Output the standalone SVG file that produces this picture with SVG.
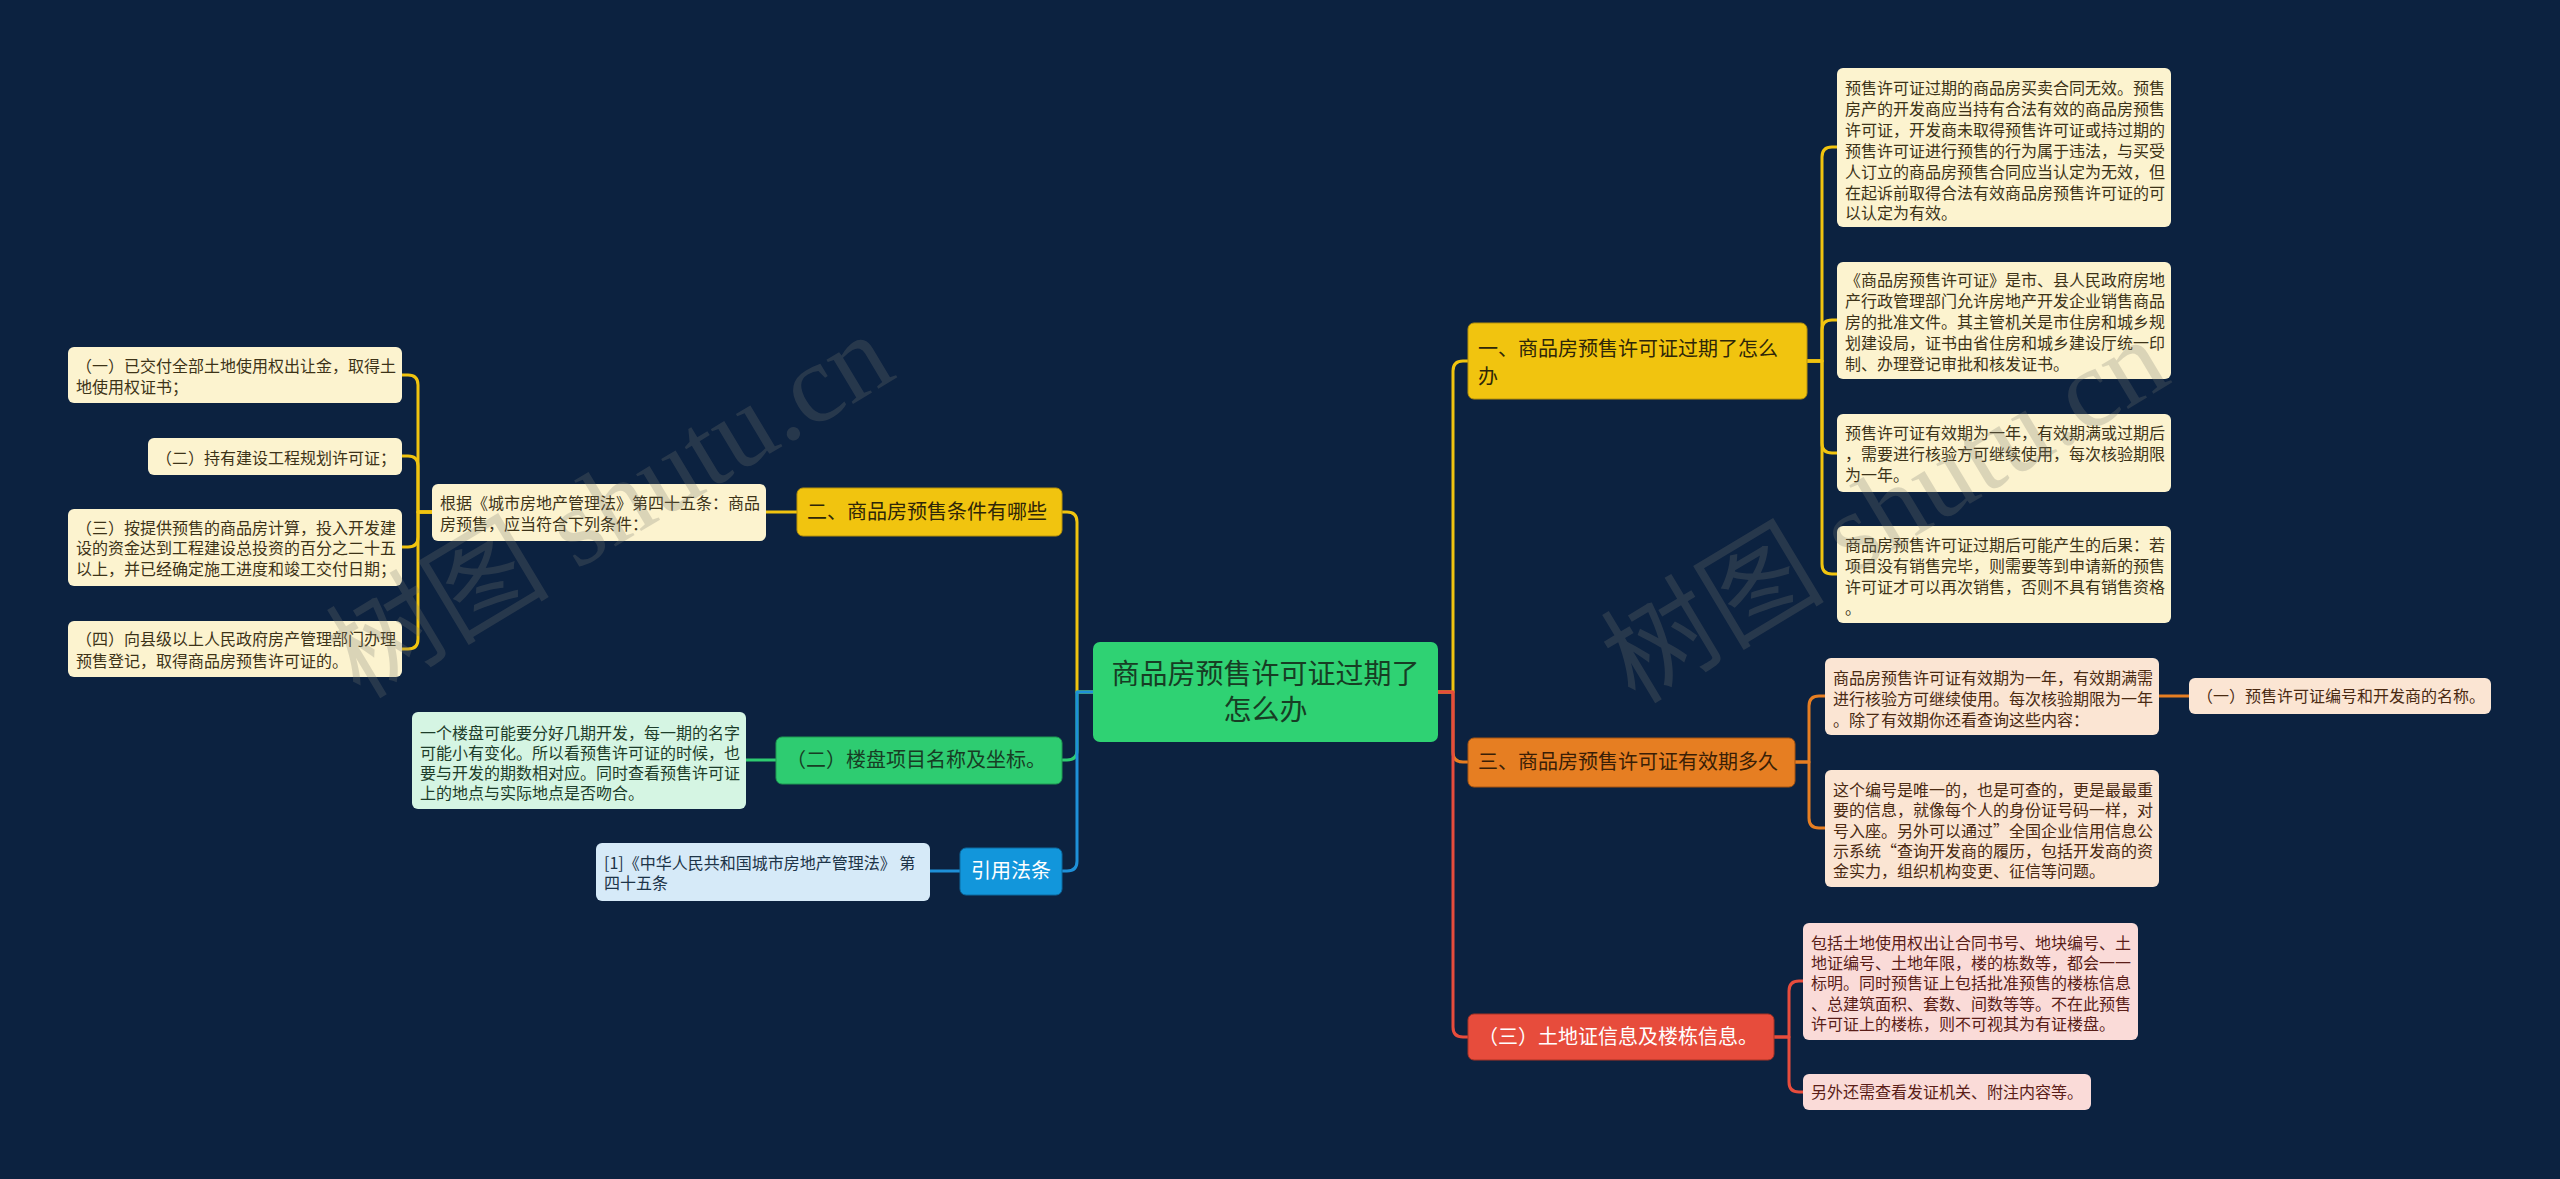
<svg xmlns="http://www.w3.org/2000/svg" width="2560" height="1179" viewBox="0 0 2560 1179">
<style>
text{font-family:"Noto Sans CJK SC","Noto Sans",sans-serif;}
.t16{font-size:16px;}
.t20{font-size:20px;}
.t28{font-size:28px;}
.c{fill:none;stroke-width:3;stroke-linejoin:round;}
.cy{stroke:#f1c40f;}
.co{stroke:#e67e22;}
.cr{stroke:#e74c3c;}
.cg{stroke:#2ecc71;}
.cb{stroke:#1e90d8;}
.nroot{fill:#2fd273;}
.ny{fill:#f1c40f;stroke:#b8920a;stroke-width:1;}
.no{fill:#e67e22;stroke:#a85510;stroke-width:1;}
.nr{fill:#e74c3c;stroke:#a83325;stroke-width:1;}
.ng{fill:#2ecc71;stroke:#1e9a52;stroke-width:1;}
.nb{fill:#1296db;stroke:#0c6aa0;stroke-width:1;}
.ly{fill:#fcf3cf;}
.lo{fill:#fbe5d3;}
.lr{fill:#fadbd8;}
.lg{fill:#d5f5e3;}
.lb{fill:#d6eaf8;}
.ty{fill:#3d3318;}
.to{fill:#4a2a12;}
.tr{fill:#5a1e18;}
.tg{fill:#1d3d2a;}
.tb{fill:#1d3448;}
.tdark{fill:#2e2608;}
.twhite{fill:#ffffff;}
.wm{font-family:"Liberation Serif","Noto Sans CJK SC",serif;font-size:112px;fill:#7a7a72;opacity:0.25;}
</style>
<rect x="0" y="0" width="2560" height="1179" fill="#0c2240"/>

<g id="connectors">
  <path class="c cy" d="M1093 692 H1077 V522 Q1077 512 1067 512 H1062"/>
  <path class="c cg" d="M1093 692 H1077 V750 Q1077 760 1067 760 H1062"/>
  <path class="c cb" d="M1093 692 H1077 V861 Q1077 871 1067 871 H1062"/>
  <path class="c cy" d="M1438 692 H1453 V371 Q1453 361 1463 361 H1468"/>
  <path class="c co" d="M1438 692 H1453 V752 Q1453 762 1463 762 H1468"/>
  <path class="c cr" d="M1438 692 H1453 V1027 Q1453 1037 1463 1037 H1468"/>
  <path class="c cy" d="M797 512 H766"/>
  <path class="c cy" d="M432 512 H418 V385 Q418 375 408 375 H402"/>
  <path class="c cy" d="M432 512 H418 V466 Q418 456 408 456 H402"/>
  <path class="c cy" d="M432 512 H418 V537 Q418 547 408 547 H402"/>
  <path class="c cy" d="M432 512 H418 V639 Q418 649 408 649 H402"/>
  <path class="c cg" d="M776 760 H746"/>
  <path class="c cb" d="M960 871 H930"/>
  <path class="c cy" d="M1807 361 H1822 V157 Q1822 147 1832 147 H1837"/>
  <path class="c cy" d="M1807 361 H1822 V330 Q1822 320 1832 320 H1837"/>
  <path class="c cy" d="M1807 361 H1822 V443 Q1822 453 1832 453 H1837"/>
  <path class="c cy" d="M1807 361 H1822 V564 Q1822 574 1832 574 H1837"/>
  <path class="c co" d="M1795 762 H1809 V706 Q1809 696 1819 696 H1825"/>
  <path class="c co" d="M1795 762 H1809 V818 Q1809 828 1819 828 H1825"/>
  <path class="c co" d="M2159 696 H2189"/>
  <path class="c cr" d="M1774 1037 H1789 V991 Q1789 981 1799 981 H1803"/>
  <path class="c cr" d="M1774 1037 H1789 V1082 Q1789 1092 1799 1092 H1803"/>
</g>

<g id="root">
  <rect class="nroot" x="1093" y="642" width="345" height="100" rx="7"/>
  <text class="t28" fill="#173d24" x="1265.5" y="684" text-anchor="middle">商品房预售许可证过期了</text>
  <text class="t28" fill="#173d24" x="1265.5" y="720" text-anchor="middle">怎么办</text>
</g>

<g id="n-two">
  <rect class="ny" x="797" y="488" width="265" height="48" rx="6"/>
  <text class="t20 tdark" x="807" y="519">二、商品房预售条件有哪些</text>
</g>
<g id="n-loupan">
  <rect class="ng" x="776" y="737" width="286" height="47" rx="6"/>
  <text class="t20" fill="#173d24" x="786" y="767">（二）楼盘项目名称及坐标。</text>
</g>
<g id="n-law">
  <rect class="nb" x="960" y="848" width="102" height="47" rx="6"/>
  <text class="t20 twhite" x="971" y="878">引用法条</text>
</g>

<g id="n-genju">
  <rect class="ly" x="432" y="484" width="334" height="57" rx="6"/>
  <text class="t16 ty" x="440" y="509">根据《城市房地产管理法》第四十五条：商品</text>
  <text class="t16 ty" x="440" y="530">房预售，应当符合下列条件：</text>
</g>
<g id="n-l1">
  <rect class="ly" x="68" y="347" width="334" height="56" rx="6"/>
  <text class="t16 ty" x="76" y="372">（一）已交付全部土地使用权出让金，取得土</text>
  <text class="t16 ty" x="76" y="393">地使用权证书；</text>
</g>
<g id="n-l2">
  <rect class="ly" x="148" y="438" width="254" height="37" rx="6"/>
  <text class="t16 ty" x="156" y="464">（二）持有建设工程规划许可证；</text>
</g>
<g id="n-l3">
  <rect class="ly" x="68" y="509" width="334" height="77" rx="6"/>
  <text class="t16 ty" x="76" y="534">（三）按提供预售的商品房计算，投入开发建</text>
  <text class="t16 ty" x="76" y="554">设的资金达到工程建设总投资的百分之二十五</text>
  <text class="t16 ty" x="76" y="575">以上，并已经确定施工进度和竣工交付日期；</text>
</g>
<g id="n-l4">
  <rect class="ly" x="68" y="621" width="334" height="56" rx="6"/>
  <text class="t16 ty" x="76" y="645">（四）向县级以上人民政府房产管理部门办理</text>
  <text class="t16 ty" x="76" y="667">预售登记，取得商品房预售许可证的。</text>
</g>
<g id="n-loupan-detail">
  <rect class="lg" x="412" y="712" width="334" height="97" rx="6"/>
  <text class="t16 tg" x="420" y="739">一个楼盘可能要分好几期开发，每一期的名字</text>
  <text class="t16 tg" x="420" y="759">可能小有变化。所以看预售许可证的时候，也</text>
  <text class="t16 tg" x="420" y="779">要与开发的期数相对应。同时查看预售许可证</text>
  <text class="t16 tg" x="420" y="799">上的地点与实际地点是否吻合。</text>
</g>
<g id="n-law-detail">
  <rect class="lb" x="596" y="843" width="334" height="58" rx="6"/>
  <text class="t16 tb" x="604" y="869">[1]《中华人民共和国城市房地产管理法》 第</text>
  <text class="t16 tb" x="604" y="889">四十五条</text>
</g>

<g id="n-one">
  <rect class="ny" x="1468" y="323" width="339" height="76" rx="6"/>
  <text class="t20 tdark" x="1478" y="356">一、商品房预售许可证过期了怎么</text>
  <text class="t20 tdark" x="1478" y="384">办</text>
</g>
<g id="n-three">
  <rect class="no" x="1468" y="738" width="327" height="49" rx="6"/>
  <text class="t20" fill="#3a1e06" x="1478" y="769">三、商品房预售许可证有效期多久</text>
</g>
<g id="n-land">
  <rect class="nr" x="1468" y="1014" width="306" height="46" rx="6"/>
  <text class="t20 twhite" x="1478" y="1044">（三）土地证信息及楼栋信息。</text>
</g>

<g id="n-r1">
  <rect class="ly" x="1837" y="68" width="334" height="159" rx="6"/>
  <text class="t16 ty" x="1845" y="94">预售许可证过期的商品房买卖合同无效。预售</text>
  <text class="t16 ty" x="1845" y="115">房产的开发商应当持有合法有效的商品房预售</text>
  <text class="t16 ty" x="1845" y="136">许可证，开发商未取得预售许可证或持过期的</text>
  <text class="t16 ty" x="1845" y="157">预售许可证进行预售的行为属于违法，与买受</text>
  <text class="t16 ty" x="1845" y="178">人订立的商品房预售合同应当认定为无效，但</text>
  <text class="t16 ty" x="1845" y="199">在起诉前取得合法有效商品房预售许可证的可</text>
  <text class="t16 ty" x="1845" y="219">以认定为有效。</text>
</g>
<g id="n-r2">
  <rect class="ly" x="1837" y="262" width="334" height="117" rx="6"/>
  <text class="t16 ty" x="1845" y="286">《商品房预售许可证》是市、县人民政府房地</text>
  <text class="t16 ty" x="1845" y="307">产行政管理部门允许房地产开发企业销售商品</text>
  <text class="t16 ty" x="1845" y="328">房的批准文件。其主管机关是市住房和城乡规</text>
  <text class="t16 ty" x="1845" y="349">划建设局，证书由省住房和城乡建设厅统一印</text>
  <text class="t16 ty" x="1845" y="370">制、办理登记审批和核发证书。</text>
</g>
<g id="n-r3">
  <rect class="ly" x="1837" y="414" width="334" height="78" rx="6"/>
  <text class="t16 ty" x="1845" y="439">预售许可证有效期为一年，有效期满或过期后</text>
  <text class="t16 ty" x="1845" y="460">，需要进行核验方可继续使用，每次核验期限</text>
  <text class="t16 ty" x="1845" y="481">为一年。</text>
</g>
<g id="n-r4">
  <rect class="ly" x="1837" y="526" width="334" height="97" rx="6"/>
  <text class="t16 ty" x="1845" y="551">商品房预售许可证过期后可能产生的后果：若</text>
  <text class="t16 ty" x="1845" y="572">项目没有销售完毕，则需要等到申请新的预售</text>
  <text class="t16 ty" x="1845" y="593">许可证才可以再次销售，否则不具有销售资格</text>
  <text class="t16 ty" x="1845" y="614">。</text>
</g>
<g id="n-a">
  <rect class="lo" x="1825" y="658" width="334" height="77" rx="6"/>
  <text class="t16 to" x="1833" y="684">商品房预售许可证有效期为一年，有效期满需</text>
  <text class="t16 to" x="1833" y="705">进行核验方可继续使用。每次核验期限为一年</text>
  <text class="t16 to" x="1833" y="726">。除了有效期你还看查询这些内容：</text>
</g>
<g id="n-number">
  <rect class="lo" x="2189" y="678" width="302" height="36" rx="6"/>
  <text class="t16 to" x="2197" y="702">（一）预售许可证编号和开发商的名称。</text>
</g>
<g id="n-b">
  <rect class="lo" x="1825" y="770" width="334" height="117" rx="6"/>
  <text class="t16 to" x="1833" y="796">这个编号是唯一的，也是可查的，更是最最重</text>
  <text class="t16 to" x="1833" y="816">要的信息，就像每个人的身份证号码一样，对</text>
  <text class="t16 to" x="1833" y="837">号入座。另外可以通过”全国企业信用信息公</text>
  <text class="t16 to" x="1833" y="857">示系统“查询开发商的履历，包括开发商的资</text>
  <text class="t16 to" x="1833" y="877">金实力，组织机构变更、征信等问题。</text>
</g>
<g id="n-p1">
  <rect class="lr" x="1803" y="923" width="335" height="117" rx="6"/>
  <text class="t16 tr" x="1811" y="949">包括土地使用权出让合同书号、地块编号、土</text>
  <text class="t16 tr" x="1811" y="969">地证编号、土地年限，楼的栋数等，都会一一</text>
  <text class="t16 tr" x="1811" y="989">标明。同时预售证上包括批准预售的楼栋信息</text>
  <text class="t16 tr" x="1811" y="1010">、总建筑面积、套数、间数等等。不在此预售</text>
  <text class="t16 tr" x="1811" y="1030">许可证上的楼栋，则不可视其为有证楼盘。</text>
</g>
<g id="n-p2">
  <rect class="lr" x="1803" y="1074" width="288" height="36" rx="6"/>
  <text class="t16 tr" x="1811" y="1098">另外还需查看发证机关、附注内容等。</text>
</g>

<g id="watermark">
  <text class="wm" x="360" y="700" transform="rotate(-31 360 700)">树图 shutu.cn</text>
  <text class="wm" x="1635" y="705" transform="rotate(-31 1635 705)">树图 shutu.cn</text>
</g>
</svg>
